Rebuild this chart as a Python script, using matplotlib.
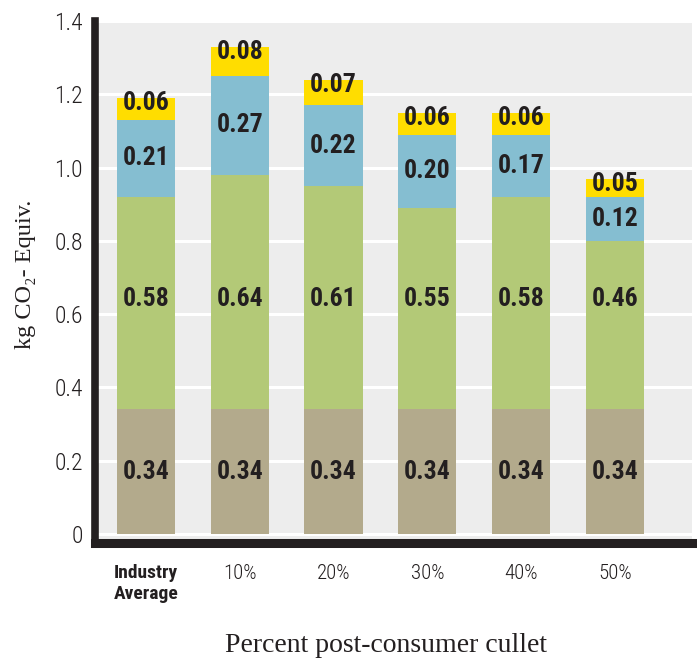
import matplotlib
matplotlib.use("Agg")
import numpy as np
import matplotlib.pyplot as plt
from matplotlib import font_manager

categories = ["Industry\nAverage", "10%", "20%", "30%", "40%", "50%"]
base = [0.34, 0.34, 0.34, 0.34, 0.34, 0.34]
green = [0.58, 0.64, 0.61, 0.55, 0.58, 0.46]
blue = [0.21, 0.27, 0.22, 0.20, 0.17, 0.12]
yellow = [0.06, 0.08, 0.07, 0.06, 0.06, 0.05]

colors = ["#B3AA8C", "#B3C977", "#85BED1", "#FFDD00"]
ink = "#231F20"

# pick a condensed sans if one is installed
names = {f.name for f in font_manager.fontManager.ttflist}
cond = None
for n in ["Roboto Condensed", "Liberation Sans Narrow", "DejaVu Sans Condensed", "Open Sans Condensed"]:
    if n in names:
        cond = n
        break
stretch = "normal"
if cond is None:
    cond = "DejaVu Sans"
    stretch = "condensed"
serif = ["Liberation Serif", "DejaVu Serif"]

fig = plt.figure(figsize=(6.97, 6.59), dpi=100)
ax = fig.add_axes([0.137, 0.1753, 0.8558, 0.7928])
ax.set_facecolor("#EDEDED")

x = np.arange(len(categories))
width = 0.62
bottom = np.zeros(len(categories))
for vals, c in zip([base, green, blue, yellow], colors):
    vals = np.array(vals)
    ax.bar(x, vals, width, bottom=bottom, color=c, zorder=3)
    bottom = bottom + vals

# value labels (green ones sit on one common line in the original)
bottom = np.zeros(len(categories))
for k, vals in enumerate([base, green, blue, yellow]):
    for i, v in enumerate(vals):
        if k == 3:
            y = bottom[i] + v - 0.015
        elif k == 1:
            y = 0.641
        else:
            y = bottom[i] + v / 2
        ax.text(x[i], y, f"{v:.2f}", ha="center", va="center", fontsize=18.5,
                fontweight="bold", family=cond, fontstretch=stretch, color=ink, zorder=4)
    bottom = bottom + np.array(vals)

ax.set_xlim(-0.538, 5.821)
ax.set_ylim(-0.026, 1.4)
ax.set_yticks([0, 0.2, 0.4, 0.6, 0.8, 1.0, 1.2, 1.4])
ax.set_yticklabels(["0", "0.2", "0.4", "0.6", "0.8", "1.0", "1.2", "1.4"])
ax.grid(axis="y", color="white", linewidth=2.2, zorder=1)
ax.set_axisbelow(True)

ax.set_xticks(x)
ax.set_xticklabels(categories)
ax.tick_params(axis="y", length=0, pad=9, labelsize=17, labelcolor=ink)
ax.tick_params(axis="x", length=0, pad=15, labelsize=15, labelcolor=ink)
for lab in ax.get_yticklabels() + ax.get_xticklabels():
    lab.set_family(cond)
    lab.set_stretch(stretch)
    lab.set_fontweight("light")
ax.get_xticklabels()[0].set_fontweight("bold")
ax.get_xticklabels()[0].set_fontsize(14)

for s in ["top", "right"]:
    ax.spines[s].set_visible(False)
ax.spines["left"].set_linewidth(5.5)
ax.spines["bottom"].set_linewidth(6.5)
for s in ["left", "bottom"]:
    ax.spines[s].set_color(ink)
    ax.spines[s].set_capstyle("projecting")
    ax.spines[s].set_zorder(5)

fig.text(0.036, 0.584, "kg CO\u2082- Equiv.", rotation=90, ha="center", va="center",
         fontsize=17.5, family=serif, color=ink)
fig.text(0.554, 0.0106, "Percent post-consumer cullet", ha="center", va="baseline",
         fontsize=20, family=serif, color=ink)

fig.savefig("out.png", dpi=100)
